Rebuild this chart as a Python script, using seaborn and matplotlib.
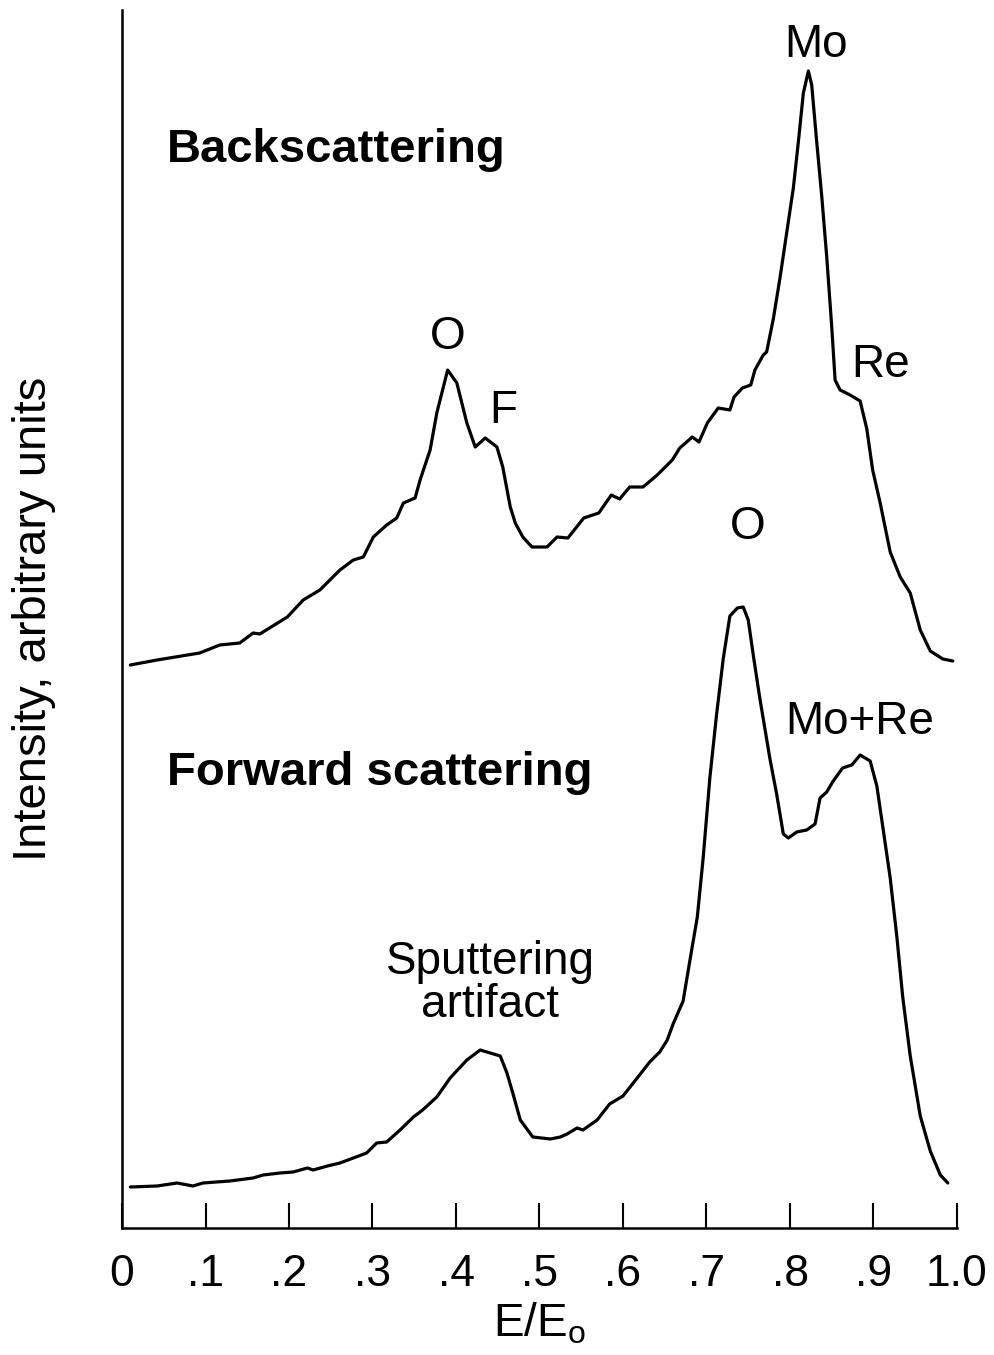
import matplotlib
matplotlib.use('Agg')
import matplotlib.pyplot as plt
import seaborn as sns

# spectra (E/Eo, intensity in arbitrary units)
e_back = [0.010, 0.042, 0.093, 0.117, 0.141, 0.157, 0.165, 0.198, 0.217, 0.237,
          0.261, 0.277, 0.289, 0.301, 0.317, 0.329, 0.337, 0.351, 0.357, 0.369,
          0.377, 0.390, 0.401, 0.413, 0.423, 0.435, 0.449, 0.456, 0.465, 0.471,
          0.480, 0.491, 0.509, 0.521, 0.534, 0.553, 0.571, 0.586, 0.596, 0.608,
          0.624, 0.641, 0.659, 0.668, 0.683, 0.691, 0.701, 0.714, 0.728, 0.733,
          0.743, 0.753, 0.758, 0.768, 0.772, 0.780, 0.788, 0.796, 0.804, 0.810,
          0.816, 0.822, 0.826, 0.832, 0.838, 0.844, 0.850, 0.854, 0.860, 0.872,
          0.884, 0.892, 0.899, 0.908, 0.920, 0.932, 0.944, 0.956, 0.968, 0.983,
          0.995]
i_back = [5.63, 5.68, 5.75, 5.83, 5.85, 5.95, 5.94, 6.11, 6.28, 6.38,
          6.58, 6.68, 6.71, 6.91, 7.03, 7.10, 7.25, 7.30, 7.48, 7.78,
          8.15, 8.58, 8.45, 8.05, 7.81, 7.90, 7.81, 7.61, 7.21, 7.05,
          6.91, 6.81, 6.81, 6.91, 6.90, 7.10, 7.15, 7.33, 7.29, 7.41,
          7.41, 7.53, 7.68, 7.80, 7.91, 7.86, 8.05, 8.20, 8.18, 8.31,
          8.40, 8.43, 8.58, 8.73, 8.76, 9.09, 9.50, 9.95, 10.40, 10.86,
          11.35, 11.57, 11.43, 10.86, 10.32, 9.71, 9.01, 8.48, 8.38, 8.33,
          8.27, 7.99, 7.58, 7.25, 6.76, 6.51, 6.35, 5.98, 5.77, 5.69,
          5.67]

e_fwd = [0.010, 0.042, 0.066, 0.085, 0.097, 0.129, 0.157, 0.169, 0.189, 0.205,
         0.222, 0.229, 0.246, 0.261, 0.277, 0.293, 0.305, 0.317, 0.333, 0.349,
         0.360, 0.377, 0.393, 0.413, 0.429, 0.437, 0.453, 0.461, 0.468, 0.477,
         0.492, 0.513, 0.525, 0.533, 0.545, 0.552, 0.569, 0.584, 0.600, 0.617,
         0.632, 0.644, 0.653, 0.660, 0.672, 0.680, 0.689, 0.696, 0.704, 0.712,
         0.720, 0.728, 0.737, 0.744, 0.750, 0.756, 0.764, 0.776, 0.784, 0.792,
         0.798, 0.808, 0.820, 0.830, 0.836, 0.844, 0.851, 0.863, 0.874, 0.884,
         0.896, 0.904, 0.911, 0.920, 0.928, 0.935, 0.944, 0.956, 0.968, 0.980,
         0.989]
i_fwd = [0.41, 0.42, 0.45, 0.42, 0.45, 0.47, 0.50, 0.53, 0.55, 0.56,
         0.60, 0.58, 0.62, 0.65, 0.70, 0.75, 0.85, 0.86, 0.98, 1.11,
         1.18, 1.31, 1.50, 1.68, 1.78, 1.76, 1.72, 1.55, 1.35, 1.08,
         0.91, 0.89, 0.91, 0.94, 1.00, 0.98, 1.08, 1.24, 1.32, 1.50,
         1.66, 1.76, 1.88, 2.04, 2.27, 2.67, 3.11, 3.70, 4.50, 5.13,
         5.69, 6.12, 6.20, 6.21, 6.08, 5.73, 5.29, 4.69, 4.34, 3.94,
         3.90, 3.96, 3.98, 4.04, 4.30, 4.36, 4.46, 4.60, 4.63, 4.73,
         4.67, 4.42, 4.02, 3.50, 2.91, 2.31, 1.72, 1.12, 0.77, 0.53,
         0.45]

x_ticks = [0, 0.1, 0.2, 0.3, 0.4, 0.5, 0.6, 0.7, 0.8, 0.9, 1.0]
x_ticklabels = ['0', '.1', '.2', '.3', '.4', '.5', '.6', '.7', '.8', '.9', '1.0']

sns.set_theme(style='ticks')
plt.rcParams['font.family'] = ['Liberation Sans', 'DejaVu Sans']
plt.rcParams['mathtext.fontset'] = 'custom'
plt.rcParams['mathtext.rm'] = 'Liberation Sans'
plt.rcParams['text.color'] = 'black'
plt.rcParams['axes.labelcolor'] = 'black'
plt.rcParams['xtick.color'] = 'black'
plt.rcParams['xtick.labelcolor'] = 'black'

fig = plt.figure(figsize=(9.95, 13.55), dpi=100)
ax = fig.add_axes([122/995, 127/1355, 835/995, 1218/1355])

sns.lineplot(x=e_back, y=i_back, ax=ax, color='black', lw=2.3, sort=False, estimator=None)
sns.lineplot(x=e_fwd, y=i_fwd, ax=ax, color='black', lw=2.3, sort=False, estimator=None)

ax.set_xlim(0, 1.0)
ax.set_ylim(0, 12.18)
ax.set_xticks(x_ticks)
ax.set_xticklabels(x_ticklabels)
ax.set_yticks([])
ax.tick_params(axis='x', direction='in', length=18, width=1.5, labelsize=32, pad=19,
               color='black', labelcolor='black')
for s in ['top', 'right']:
    ax.spines[s].set_visible(False)
for s in ['left', 'bottom']:
    ax.spines[s].set_linewidth(1.8)
    ax.spines[s].set_color('black')

ax.set_xlabel(r'E/E$_{\mathregular{o}}$', fontsize=33, color='black')
ax.xaxis.set_label_coords(0.5, -0.06)
ax.set_ylabel('Intensity, arbitrary units', fontsize=34, color='black')
ax.yaxis.set_label_coords(-0.079, 0.5)

# peak labels
fs = 33
ax.text(0.054, 10.78, 'Backscattering', fontsize=34, fontweight='bold', va='center')
ax.text(0.054, 4.55, 'Forward scattering', fontsize=34, fontweight='bold', va='center')
ax.text(0.831, 11.83, 'Mo', fontsize=fs, ha='center', va='center')
ax.text(0.390, 8.91, 'O', fontsize=fs, ha='center', va='center')
ax.text(0.456, 8.17, 'F', fontsize=fs, ha='center', va='center')
ax.text(0.908, 8.63, 'Re', fontsize=fs, ha='center', va='center')
ax.text(0.750, 7.01, 'O', fontsize=fs, ha='center', va='center')
ax.text(0.884, 5.06, 'Mo+Re', fontsize=fs, ha='center', va='center')
ax.text(0.441, 2.66, 'Sputtering', fontsize=fs, ha='center', va='center')
ax.text(0.441, 2.23, 'artifact', fontsize=fs, ha='center', va='center')

fig.savefig('out.png', dpi=100)
